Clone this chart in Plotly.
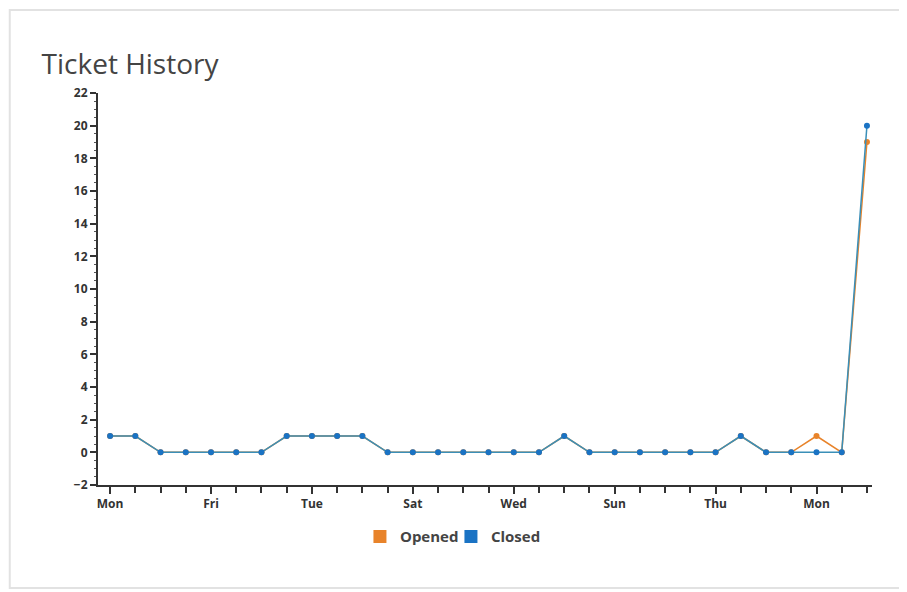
import plotly.graph_objects as go
import pandas as pd

dates = pd.date_range("2017-01-02", periods=31, freq="D").strftime("%Y-%m-%d").tolist()
opened = [1, 1, 0, 0, 0, 0, 0, 1, 1, 1, 1, 0, 0, 0, 0, 0, 0, 0, 1, 0, 0, 0, 0, 0, 0, 1, 0, 0, 1, 0, 19]
closed = [1, 1, 0, 0, 0, 0, 0, 1, 1, 1, 1, 0, 0, 0, 0, 0, 0, 0, 1, 0, 0, 0, 0, 0, 0, 1, 0, 0, 0, 0, 20]
y_ticks = list(range(-2, 23, 2))

ORANGE = "#e8832a"
BLUE = "#1a73c4"

fig = go.Figure()
fig.add_trace(go.Scatter(x=dates, y=opened, name="Opened", mode="lines+markers",
                         line=dict(color=ORANGE, width=1.5),
                         marker=dict(color=ORANGE, size=6), showlegend=False))
fig.add_trace(go.Scatter(x=dates, y=closed, name="Closed", mode="lines+markers",
                         line=dict(color="#3a8fb8", width=1.5),
                         marker=dict(color=BLUE, size=6), showlegend=False))
# legend swatches (square)
fig.add_trace(go.Scatter(x=[None], y=[None], name="Opened", mode="markers",
                         marker=dict(color=ORANGE, size=13, symbol="square")))
fig.add_trace(go.Scatter(x=[None], y=[None], name="Closed", mode="markers",
                         marker=dict(color=BLUE, size=13, symbol="square")))

DAY = 86400000
start = pd.Timestamp(dates[0])
fig.update_layout(
    width=907, height=592,
    margin=dict(l=90, r=43, t=85, b=115),
    paper_bgcolor="white", plot_bgcolor="white",
    font=dict(family="Open Sans, sans-serif", color="#333"),
    title=dict(text="Ticket History", x=0.037, xanchor="left", y=0.905, yanchor="middle",
               font=dict(size=28, color="#444", family="Open Sans, sans-serif")),
    showlegend=True,
    legend=dict(orientation="h", x=0.456, xanchor="center", y=-0.09, yanchor="top",
                font=dict(size=15, color="#444", weight="bold"),
                traceorder="normal", itemwidth=30,
                entrywidth=46, entrywidthmode="pixels"),
    xaxis=dict(
        type="date",
        range=[(start - pd.Timedelta(hours=11.5)).isoformat(), (start + pd.Timedelta(days=30.2)).isoformat()],
        tick0=dates[0], dtick=4 * DAY, tickformat="%a",
        ticks="outside", ticklen=7, tickwidth=2, tickcolor="#333",
        showline=True, linecolor="#333", linewidth=2, showgrid=False, zeroline=False,
        tickfont=dict(size=12, color="#333", weight="bold"),
        minor=dict(dtick=DAY, tick0=dates[0], ticks="outside", ticklen=6, tickwidth=2, tickcolor="#333", showgrid=False),
    ),
    yaxis=dict(
        range=[-2, 22], tickvals=y_ticks,
        ticks="outside", ticklen=6, tickwidth=2, tickcolor="#333",
        showline=True, linecolor="#333", linewidth=2, showgrid=False, zeroline=False,
        tickfont=dict(size=12, color="#333", weight="bold"),
        minor=dict(dtick=0.5, ticks="outside", ticklen=2, tickwidth=1, tickcolor="#555", showgrid=False),
    ),
    shapes=[dict(type="rect", xref="paper", yref="paper", x0=-0.114, x1=1.039, y0=-0.263, y1=1.212,
                 line=dict(color="#e2e2e2", width=2))],
)

fig.write_html("out.html")
